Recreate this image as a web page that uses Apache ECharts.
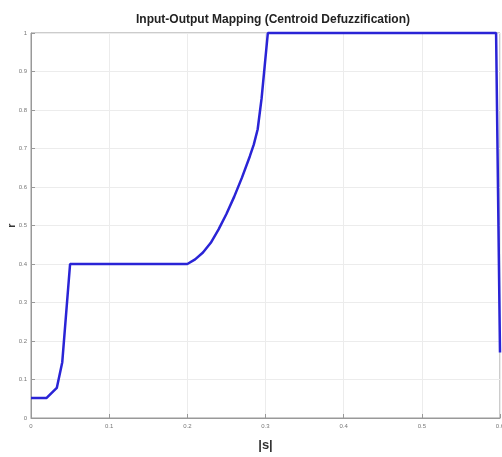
<!DOCTYPE html>
<html><head><meta charset="utf-8">
<script src="https://cdn.jsdelivr.net/npm/echarts@6/dist/echarts.min.js"></script>
<style>html,body{margin:0;padding:0;background:#fff}#c{width:502px;height:457px}</style>
</head><body><div id="c"></div>
<script>
const sValues = [0, 0.02, 0.033, 0.04, 0.05, 0.2, 0.21, 0.22, 0.23, 0.24, 0.25, 0.26, 0.27, 0.28, 0.285, 0.29, 0.295, 0.303, 0.595, 0.6];
const rValues = [0.052, 0.052, 0.078, 0.145, 0.4, 0.4, 0.412, 0.43, 0.455, 0.49, 0.53, 0.575, 0.625, 0.68, 0.71, 0.75, 0.83, 1.0, 1.0, 0.17];
const titleText = 'Input-Output Mapping (Centroid Defuzzification)';
const xName = '|s|';
const yName = 'r';

const chart = echarts.init(document.getElementById('c'));
chart.setOption({
  animation: false,
  title: { text: titleText, left: 268, top: 9, textAlign: 'center',
    textStyle: { fontFamily: 'Liberation Sans Narrow, Liberation Sans, sans-serif', fontSize: 12, fontWeight: 'bold', color: '#222' } },
  grid: { left: 31, right: 2, top: 33, bottom: 39, show: true, borderColor: '#999', borderWidth: 1,
    containLabel: false, outerBoundsMode: 'none' },
  xAxis: { type: 'value', min: 0, max: 0.6, interval: 0.1,
    name: xName, nameLocation: 'middle', nameGap: 21, nameMoveOverlap: false,
    nameTextStyle: { fontFamily: 'Liberation Sans', fontSize: 13, fontWeight: 'bold', color: '#333' },
    axisLine: { lineStyle: { color: '#999' } },
    axisTick: { show: true, inside: true, length: 4, lineStyle: { color: '#999' } },
    axisLabel: { fontSize: 6, color: '#777', margin: 5 },
    splitLine: { show: true, lineStyle: { color: '#ececec' } } },
  yAxis: { type: 'value', min: 0, max: 1, interval: 0.1,
    name: yName, nameLocation: 'middle', nameGap: 14, nameRotate: 90, nameMoveOverlap: false,
    nameTextStyle: { fontFamily: 'Liberation Sans', fontSize: 11, fontWeight: 'bold', color: '#333' },
    axisLine: { show: true, lineStyle: { color: '#999' } },
    axisTick: { show: true, inside: true, length: 4, lineStyle: { color: '#999' } },
    axisLabel: { fontSize: 6, color: '#777', margin: 4 },
    splitLine: { show: true, lineStyle: { color: '#ececec' } } },
  series: [{ type: 'line', data: sValues.map((s, i) => [s, rValues[i]]),
    showSymbol: false, clip: false,
    lineStyle: { color: '#2a24d6', width: 2.5 } }]
});
</script></body></html>
